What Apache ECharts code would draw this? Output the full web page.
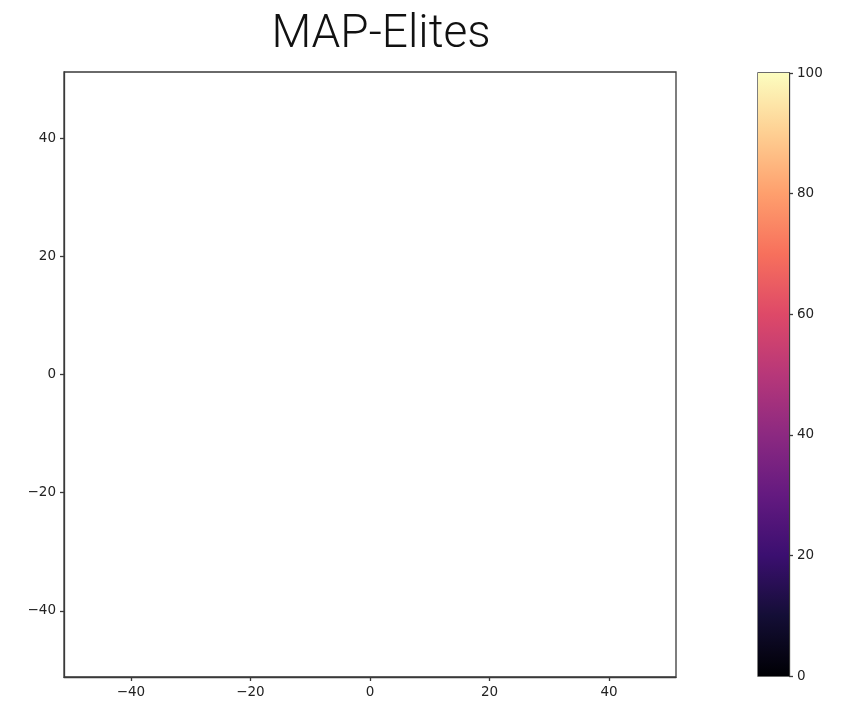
<!DOCTYPE html>
<html><head><meta charset="utf-8">
<script src="https://cdn.jsdelivr.net/npm/echarts@6/dist/echarts.min.js"></script>
<style>html,body{margin:0;padding:0;background:#fff}#c{width:843px;height:702px}</style>
</head><body><div id="c"></div>
<script>
// Data
const xTicks = [-40, -20, 0, 20, 40];
const yTicks = [-40, -20, 0, 20, 40];
const cbTicks = [0, 20, 40, 60, 80, 100];
const axisRange = [-51.2, 51.2];
const cbRange = [0, 100];
const elites = []; // archive is empty in the reference
const magma = ['#000004','#140e36','#3b0f70','#641a80','#8c2981','#b73779','#de4968','#f7705c','#fe9f6d','#fecf92','#fcfdbf'];

const chart = echarts.init(document.getElementById('c'), null, {renderer: 'canvas'});
const fmt = v => String(v).replace('-', '\u2212');
const lab = {color: '#222', fontFamily: 'DejaVu Sans', fontSize: 13.5};
const line = {show: true, onZero: false, lineStyle: {color: '#3a3a3a', width: 1.3}};
const tick = {show: true, length: 4, lineStyle: {color: '#3a3a3a', width: 1.3}};
chart.setOption({
  animation: false,
  title: {text: 'MAP-Elites', left: 376, top: 7, textAlign: 'center',
    textStyle: {fontFamily: 'Roboto', fontWeight: 300, fontSize: 46, color: '#111'}},
  grid: [
    {left: 64, top: 72, width: 612, height: 605, show: true, borderColor: '#3a3a3a', borderWidth: 1.3, backgroundColor: '#fff'},
    {left: 758, top: 73, width: 31, height: 603, show: true, borderColor: '#3a3a3a', borderWidth: 1.3}
  ],
  xAxis: [
    {type: 'value', gridIndex: 0, min: axisRange[0], max: axisRange[1], axisLine: line,
      axisTick: Object.assign({customValues: xTicks}, tick),
      axisLabel: Object.assign({customValues: xTicks, formatter: fmt, margin: 8}, lab), splitLine: {show: false}},
    {type: 'category', gridIndex: 1, data: ['c'], show: false}
  ],
  yAxis: [
    {type: 'value', gridIndex: 0, min: axisRange[0], max: axisRange[1], axisLine: line,
      axisTick: Object.assign({customValues: yTicks}, tick),
      axisLabel: Object.assign({customValues: yTicks, formatter: fmt, margin: 8}, lab), splitLine: {show: false}},
    {type: 'value', gridIndex: 1, position: 'right', min: cbRange[0], max: cbRange[1], axisLine: line,
      axisTick: Object.assign({customValues: cbTicks}, tick),
      axisLabel: Object.assign({customValues: cbTicks, margin: 8}, lab), splitLine: {show: false}}
  ],
  series: [
    {type: 'scatter', xAxisIndex: 0, yAxisIndex: 0, data: elites, symbolSize: 5},
    {type: 'bar', xAxisIndex: 1, yAxisIndex: 1, data: [cbRange[1]], barWidth: '100%', silent: true,
      itemStyle: {color: new echarts.graphic.LinearGradient(0, 1, 0, 0,
        magma.map((c, i) => ({offset: i / (magma.length - 1), color: c})))}}
  ]
});
</script></body></html>
